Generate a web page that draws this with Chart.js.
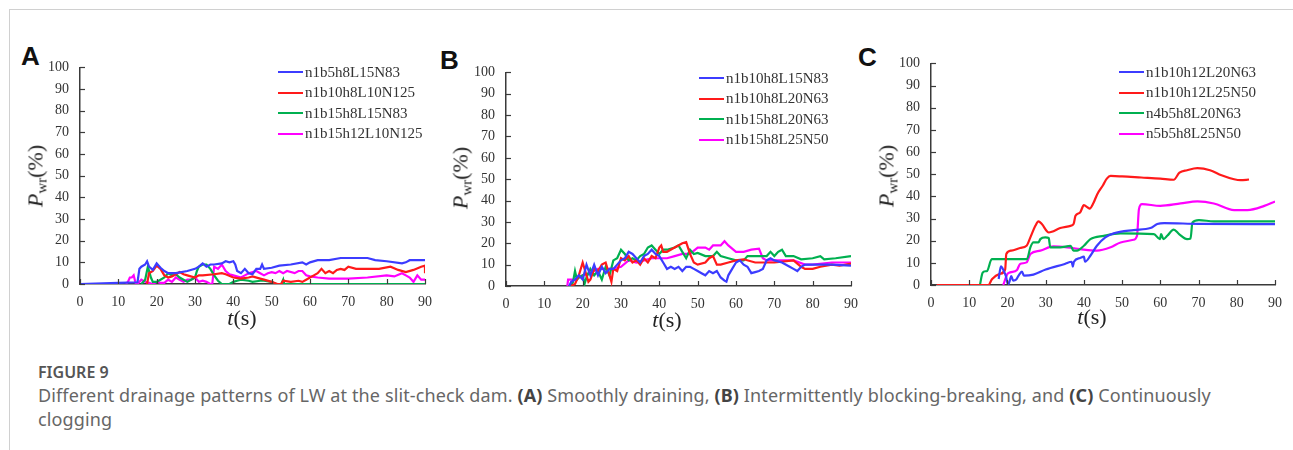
<!DOCTYPE html>
<html>
<head>
<meta charset="utf-8">
<script src="https://cdn.jsdelivr.net/npm/chart.js@4.4.1/dist/chart.umd.min.js"></script>
<style>
  html, body { margin:0; padding:0; background:#fff; }
  body { width:1293px; height:450px; position:relative; overflow:hidden; }
  .frame { position:absolute; left:9px; top:9px; width:1290px; height:450px; border-top:1px solid #d0d0d0; border-left:1px solid #d0d0d0; }
  canvas { position:absolute; }
  .letter { position:absolute; font-family:"Liberation Sans", Arial, sans-serif; font-weight:bold; font-size:26px; color:#111; line-height:1; }
  .xt { position:absolute; font-family:"Liberation Serif", serif; font-size:22px; color:#222; line-height:1; transform:translate(-50%,-50%); white-space:nowrap; }
  .yt { position:absolute; font-family:"Liberation Serif", serif; font-size:22px; color:#222; line-height:1; transform:translate(-50%,-50%) rotate(-90deg); white-space:nowrap; }
  .yt sub { font-size:15px; font-style:normal; vertical-align:-4px; }
  .legend { position:absolute; font-family:"Liberation Serif", serif; font-size:15px; color:#333; }
  .legend .row { position:absolute; left:0; height:20px; display:flex; align-items:center; white-space:nowrap; transform:translateY(-50%); }
  .legend .sw { width:25px; height:2px; margin-right:2px; }
  .cap { position:absolute; left:38px; font-family:"Noto Sans", "Open Sans", sans-serif; color:#666; white-space:nowrap; }
  .cap b { color:#444; }
</style>
</head>
<body>
<div class="frame"></div>

<div class="letter" style="left:21px;top:43px;">A</div>
<div class="letter" style="left:440px;top:47px;">B</div>
<div class="letter" style="left:858px;top:44px;">C</div>

<canvas id="cA" width="400" height="270"></canvas>
<canvas id="cB" width="400" height="270"></canvas>
<canvas id="cC" width="400" height="270"></canvas>

<div class="xt" style="left:242px;top:318px;"><i>t</i>(s)</div>
<div class="xt" style="left:667px;top:320px;"><i>t</i>(s)</div>
<div class="xt" style="left:1092px;top:317px;"><i>t</i>(s)</div>

<div class="yt" style="left:37px;top:176px;"><i>P</i><sub>wr</sub>(%)</div>
<div class="yt" style="left:462px;top:178px;"><i>P</i><sub>wr</sub>(%)</div>
<div class="yt" style="left:888px;top:176px;"><i>P</i><sub>wr</sub>(%)</div>

<div class="legend" id="lA" style="left:278px;top:72px;"></div>
<div class="legend" id="lB" style="left:699px;top:78px;"></div>
<div class="legend" id="lC" style="left:1119px;top:72px;"></div>

<div class="cap" style="top:361px;font-size:16px;font-weight:600;color:#555;">FIGURE 9</div>
<div class="cap" style="top:383px;font-size:18px;line-height:24px;letter-spacing:0.12px;">Different drainage patterns of LW at the slit-check dam. <b>(A)</b> Smoothly draining, <b>(B)</b> Intermittently blocking-breaking, and <b>(C)</b> Continuously<br>clogging</div>

<script>
// ---------- data: [t (s), Pwr (%)] ----------
const xTicks = [0,10,20,30,40,50,60,70,80,90];
const yTicks = [0,10,20,30,40,50,60,70,80,90,100];

const labelsA = ["n1b5h8L15N83","n1b10h8L10N125","n1b15h8L15N83","n1b15h12L10N125"];
const labelsB = ["n1b10h8L15N83","n1b10h8L20N63","n1b15h8L20N63","n1b15h8L25N50"];
const labelsC = ["n1b10h12L20N63","n1b10h12L25N50","n4b5h8L20N63","n5b5h8L25N50"];
const colors = ["#3c3cff","#ff1a1a","#00b050","#ff00ff"];

const A_blue = [[0,0],[10,0.5],[15,0.8],[15.5,7],[16,8],[17,9],[17.5,10.5],[18,8],[19,6.5],[20,9.5],[21,7.5],[22,6],[23,5],[25,5],[28,6],[30,7],[31,8],[32,9.5],[33,8],[34,9],[35,9],[37,9.5],[38,10.5],[39,10],[40,10.5],[40.5,9],[41,6],[42,5],[43,7],[44,5],[45,4.5],[46,7],[47,7],[47.5,9],[48,7],[50,7.5],[52,8.5],[55,9],[58,10],[59,9],[60,10],[62,11],[65,11],[68,12],[70,12],[75,12],[77,11],[80,10.5],[84,9.5],[85,10],[86,11],[90,11]];
const A_red = [[17.5,0],[18,5],[19,6],[20,8.5],[21,7],[22,4],[23,3],[24,3.5],[25,4.5],[26,5.5],[27,4.5],[28,4],[30,3],[31,4],[32,4],[35,4.5],[37,5],[38,4.5],[40,3],[42,2.5],[44,3],[45,3.5],[47,2.5],[48,2],[50,1],[51.5,0],[52.5,0],[53,1.5],[55,1],[57,1.5],[58,1],[59,2],[60,3],[61,4],[62,5],[63,7],[64,5],[65,6],[66,5],[67,6.5],[68,7],[69,6.5],[70,8],[72,7],[75,7],[78,7],[81,8],[83,6.5],[85,5.5],[87,6.5],[89,8],[90,8.5],[90,5]];
const A_green = [[16,0],[17,2],[17.7,8],[18.5,3],[19,1],[20,1],[21,2],[22,3],[23,5],[24,4],[25,4.5],[26,3],[27,2],[28,1],[29,2],[30,3],[30.5,6],[31,8],[32,9],[33,9],[34,7],[35,4],[36,1.5],[37,0],[39,0],[40,1],[41,1.5],[42,2],[44,1.5],[45,1],[47,1.5],[48,1.5],[50,1],[51,0],[52.5,0],[53,2],[53.2,0],[90,0]];
const A_magenta = [[12,0],[12.5,1],[13,3],[13.5,3],[14,4],[14.5,0.5],[15,0],[16,2],[17,1],[18,0.5],[19,0],[20,1],[21,0.5],[22,0.5],[23,2],[24,1],[25,3],[26,2],[27,1],[28,2],[29,2],[30,3],[31,1],[32,1.5],[33,1],[34,0],[34.5,0],[35,8],[36,7],[37,9],[38,6],[39,4.5],[40,4],[42,3],[43,4],[44,5],[46,6],[47,5],[48,4],[49,5],[50,5.5],[51,5],[52,6],[53,5],[54,6],[56,5],[57,6],[58,6],[59,4],[60,3.5],[62,3],[65,2.5],[70,2.5],[75,3],[80,4],[82,3.5],[84,5],[85,4],[86,3],[87,1],[88,4],[89,2],[90,2]];

const B_blue = [[16.5,0],[17,2],[18,3],[19,5],[20,3],[21,10],[22,5],[23,10],[24,5],[25,9],[26,6],[27,8],[28,8],[29,10],[30,12],[31,13],[32,16],[33,15],[34,13],[35,11],[36,14],[37,15],[38,17],[39,15],[40,14],[41,11],[42,8],[43,9],[44,8],[45,9],[46,7],[47,9],[48,9],[49,8],[50,7],[51,6],[52,5],[53,7],[54,6],[55,7],[56,4],[57,2.5],[57.5,2],[58,5],[59,8],[60,11],[61,12],[62,10],[63,9],[64,6],[65,6.5],[66,7],[67,8],[68,12],[69,13],[70,12],[72,11],[74,9],[75,8],[76,7],[77,9],[78,10],[80,10],[85,10],[90,9.5]];
const B_red = [[17,0],[18,1],[19,5],[20,11],[21,5],[21.5,2],[22,3],[23,8],[24,7],[25,10],[26,11],[27,5],[27.5,2],[28,8],[29,7],[30,13],[31,12],[32,14],[33,11],[34,12],[35,10],[36,13],[37,11],[38,14],[39,13],[40,18],[40.5,19],[41,16],[42,16],[44,18],[46,20],[47,20.5],[48,15],[49,11],[50,10],[52,11],[53,13],[54,14],[55,10],[56,10],[58,11],[60,12],[62,12.5],[65,11],[70,11],[75,12],[77,9],[78,8],[80,8],[82,9],[85,10],[87,9.5],[90,10.5]];
const B_green = [[17,0],[17.5,2],[18,7],[18.5,3],[19,4],[20,5],[20.5,1],[21,4],[22,8],[23,5],[24,7],[25,3],[26,9],[27,5],[28,12],[29,13],[30,17],[31,15],[32,12],[33,13],[34,12],[35,14],[36,15],[37,18],[38,19],[39,17],[40,15],[41,17],[42,17],[44,18],[45,19],[46,16],[47,13],[48,17],[49,15],[50,15.5],[52,14],[54,14],[55,16],[56,14],[58,13],[60,12],[62,12],[63,14],[65,14],[68,14],[69,16],[70,14],[71,16],[72,17],[73,14],[75,14],[77,12.5],[80,13],[82,14],[83,12.5],[86,13],[90,14]];
const B_magenta = [[16,0],[16.2,3],[18,3],[19,4],[20,5],[22,6],[24,8],[26,8],[28,8],[30,9],[32,12],[34,11],[36,12],[38,13],[40,13],[42,13],[44,14],[46,15],[48,15],[50,18],[52,18],[53,17],[54,19],[56,19],[57,21],[58,19],[60,16],[62,16],[64,17],[66,17.5],[67,13],[68,12],[70,12],[75,12],[78,10],[80,10],[85,11],[90,11]];

const C_blue = [[17.7,2.7],[18.3,8.4],[19,6.5],[19.6,4],[20,1],[20.3,0.5],[21,4],[21.5,2],[22.3,2.5],[23,4.5],[23.8,6],[24.3,4.2],[26.8,4.7],[30,7],[35,9.5],[36.8,10.5],[37.1,8.3],[37.4,10.5],[39,12.2],[40,12.8],[40.3,10.5],[41.7,13.2],[43.4,17.7],[45.6,21.5],[47.8,23.3],[53,24.8],[57.4,25.7],[59.2,27.5],[61,27.9],[70,27.6],[90,27.5]];
const C_red = [[1.5,0],[15,0],[16,2.7],[18,5],[19.4,7],[19.7,14],[21,15.5],[23.3,16.7],[25,17.7],[26,21.5],[27.3,26.7],[28.1,28.7],[29,27.5],[30.8,23.7],[31.6,24],[33.8,25.7],[36.5,26.7],[37.3,27.5],[37.8,31.2],[39,32.7],[40,36],[41,35],[41.5,34.5],[42.5,37],[43.5,41],[45,45],[46,48],[47,49.2],[50,49],[55,48.5],[60,48],[63.5,47.5],[65,50.7],[67,51.8],[69.7,52.7],[73,51.8],[76,49.5],[79.3,47.7],[81,47.3],[83.2,47.6]];
const C_green = [[12.8,0],[13.5,5.5],[14.2,6.2],[14.6,6.2],[15.9,11.7],[25.1,11.7],[26,17],[26.8,19.2],[28.1,19.2],[28.6,20.7],[29.9,21.5],[30.8,21.2],[31.2,17],[33.8,17],[36.5,17.7],[37.3,15.5],[38.2,15.5],[40,17.7],[41.7,20.7],[45.2,22.2],[49.6,23.3],[58.3,23],[59.9,20.7],[60.2,23],[60.8,20.7],[61.8,22.2],[63.5,25],[64.9,23],[67,20.7],[67.9,21],[68.4,28.2],[70.1,29.3],[74,28.7],[90,28.7]];
const C_magenta = [[18.9,0],[20,5],[20.7,5.7],[22.5,6.8],[23.3,9.5],[25,10.2],[26,14],[28.6,15.5],[32,17.4],[35.6,17],[39,16.2],[43.4,15.5],[47,17],[49.6,19.2],[53,20.4],[53.9,22.2],[54.4,34.2],[55.2,36.5],[60,35.7],[65.3,36.8],[69.7,37.7],[74,36.8],[79.3,33.8],[82.8,33.8],[87.2,35.7],[90,37.7]];

// ---------- drawing ----------
const tickFont = { family: "Liberation Serif", size: 14 };
const axisColor = "#3a3a3a";

const insideTicks = {
  id: "insideTicks",
  afterDraw(chart) {
    const { ctx, chartArea: a, scales: { x, y } } = chart;
    ctx.save();
    ctx.strokeStyle = axisColor;
    ctx.lineWidth = 1.2;
    xTicks.forEach(v => {
      const px = Math.round(x.getPixelForValue(v)) + 0.5;
      ctx.beginPath(); ctx.moveTo(px, a.bottom); ctx.lineTo(px, a.bottom - 5); ctx.stroke();
    });
    yTicks.forEach(v => {
      const py = Math.round(y.getPixelForValue(v)) + 0.5;
      ctx.beginPath(); ctx.moveTo(a.left, py); ctx.lineTo(a.left + 5, py); ctx.stroke();
    });
    ctx.restore();
  }
};

function toXY(arr) { return arr.map(p => ({ x: p[0], y: p[1] })); }

function chartConfig(labels, series, tension) {
  return {
    type: "line",
    data: {
      datasets: series.map((s, i) => ({
        label: labels[i],
        data: toXY(s),
        borderColor: colors[i],
        backgroundColor: colors[i],
        borderWidth: 2.2,
        pointRadius: 0,
        tension: tension,
        cubicInterpolationMode: tension > 0 ? "monotone" : "default",
        fill: false
      }))
    },
    options: {
      responsive: false,
      maintainAspectRatio: false,
      animation: false,
      layout: { padding: 0 },
      plugins: { legend: { display: false }, tooltip: { enabled: false } },
      scales: {
        x: {
          type: "linear", min: 0, max: 90,
          afterBuildTicks(s) { s.ticks = xTicks.map(v => ({ value: v })); },
          ticks: { font: tickFont, color: "#333", padding: 10, maxRotation: 0, autoSkip: false },
          grid: { drawOnChartArea: false, drawTicks: false },
          border: { display: true, color: axisColor, width: 1.5 },
          afterFit(s) { s.height = 31; }
        },
        y: {
          type: "linear", min: 0, max: 100,
          afterBuildTicks(s) { s.ticks = yTicks.map(v => ({ value: v })); },
          ticks: { font: tickFont, color: "#333", padding: 11, autoSkip: false },
          grid: { drawOnChartArea: false, drawTicks: false },
          border: { display: true, color: axisColor, width: 1.5 },
          afterFit(s) { s.width = 40; }
        }
      }
    },
    plugins: [insideTicks]
  };
}

// place the chart so its plot area lands on the target box (left, top, right, bottom)
function makeChart(id, labels, series, tension, box) {
  const cv = document.getElementById(id);
  let ch = new Chart(cv, chartConfig(labels, series, tension));
  const a = ch.chartArea;
  const w = cv.width + ((box[2] - box[0]) - (a.right - a.left));
  const h = cv.height + ((box[3] - box[1]) - (a.bottom - a.top));
  ch.destroy();
  cv.width = Math.round(w); cv.height = Math.round(h);
  cv.style.width = Math.round(w) + "px"; cv.style.height = Math.round(h) + "px";
  ch = new Chart(cv, chartConfig(labels, series, tension));
  const b = ch.chartArea;
  cv.style.left = Math.round(box[0] - b.left) + "px";
  cv.style.top = Math.round(box[1] - b.top) + "px";
  return ch;
}

function makeLegend(id, labels) {
  const el = document.getElementById(id);
  labels.forEach((lab, i) => {
    const row = document.createElement("div");
    row.className = "row";
    row.style.top = (i * 20.6) + "px";
    const sw = document.createElement("span");
    sw.className = "sw";
    sw.style.background = colors[i];
    const tx = document.createElement("span");
    tx.textContent = lab;
    row.appendChild(sw); row.appendChild(tx);
    el.appendChild(row);
  });
}

makeChart("cA", labelsA, [A_blue, A_red, A_green, A_magenta], 0, [80, 67, 425, 284]);
makeChart("cB", labelsB, [B_blue, B_red, B_green, B_magenta], 0, [506, 72, 851, 286]);
makeChart("cC", labelsC, [C_blue, C_red, C_green, C_magenta], 0.3, [931, 63, 1275, 285]);
makeLegend("lA", labelsA);
makeLegend("lB", labelsB);
makeLegend("lC", labelsC);
</script>
</body>
</html>
